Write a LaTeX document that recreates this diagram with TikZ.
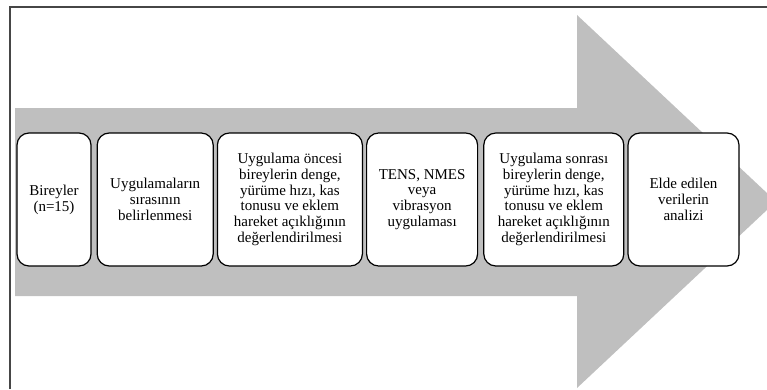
\documentclass[tikz,border=0pt]{standalone}
\usepackage{fontspec}
\setmainfont{Liberation Serif}
\usetikzlibrary{positioning}

\definecolor{arrowgray}{RGB}{191,191,191}
\definecolor{framegray}{RGB}{70,70,70}
\tikzset{
  stage/.style={draw=black, line width=1.2pt, fill=white, rounded corners=12pt,
    minimum height=133pt, align=center, inner sep=2pt,
    font=\fontsize{15}{15.8}\selectfont},
}

\begin{document}
\begin{tikzpicture}[x=1pt,y=1pt]
\useasboundingbox (0,0) rectangle (767,389);
\clip (0,0) rectangle (767,389);

\fill[arrowgray] (15,281) -- (577,281) -- (577,374) -- (776,187.5) -- (577,1) -- (577,93) -- (15,93) -- cycle;
\draw[framegray, line width=1.6pt] (10,0) -- (10,382) -- (767,382);

\node[stage, minimum width=74pt] (bireyler) at (54,189.5) {Bireyler\\(n=15)};
\node[stage, minimum width=116pt, right=5pt of bireyler] (sira) {Uygulamaların\\sırasının\\belirlenmesi};
\node[stage, minimum width=145pt, right=3pt of sira] (once) {Uygulama öncesi\\bireylerin denge,\\yürüme hızı, kas\\tonusu ve eklem\\hareket açıklığının\\değerlendirilmesi};
\node[stage, minimum width=111pt, right=3pt of once] (uygulama) {TENS, NMES\\veya\\vibrasyon\\uygulaması};
\node[stage, minimum width=140pt, right=5pt of uygulama] (sonra) {Uygulama sonrası\\bireylerin denge,\\yürüme hızı, kas\\tonusu ve eklem\\hareket açıklığının\\değerlendirilmesi};
\node[stage, minimum width=111pt, right=3pt of sonra] (analiz) {Elde edilen\\verilerin\\analizi};

\end{tikzpicture}
\end{document}
